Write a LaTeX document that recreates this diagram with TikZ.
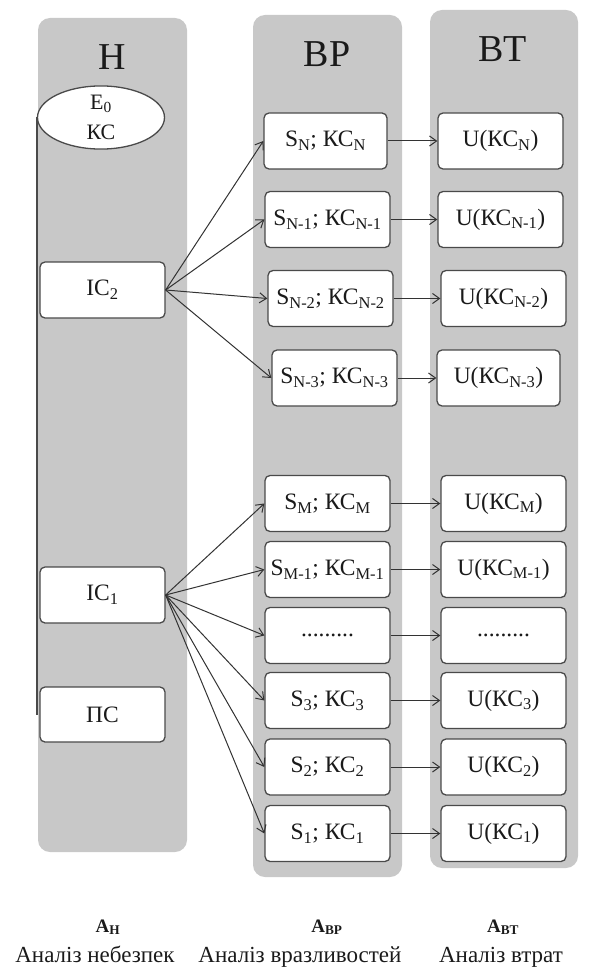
\documentclass[tikz,border=0pt]{standalone}
\usepackage{fontspec}
\setmainfont{Liberation Serif}
\usetikzlibrary{arrows.meta,shapes.geometric}

\definecolor{colgray}{HTML}{C8C8C8}
\definecolor{boxline}{HTML}{4A4A4A}
\definecolor{arrowline}{HTML}{333333}
\definecolor{ink}{HTML}{1A1A1A}

\begin{document}
\begin{tikzpicture}[x=1pt,y=-1pt,
  column/.style={fill=colgray, rounded corners=12pt},
  box/.style={draw=boxline, line width=1.3pt, fill=white, rounded corners=5pt,
    minimum width=124pt, minimum height=56pt, inner sep=0pt,
    font=\fontsize{23.5}{27}\selectfont, text=ink},
  head/.style={font=\fontsize{38}{44}\selectfont, text=ink, anchor=base},
  capt/.style={font=\fontsize{19}{22}\selectfont\bfseries, text=ink, anchor=base},
  captline/.style={font=\fontsize{23}{26}\selectfont, text=ink, anchor=base},
  link/.style={draw=arrowline, line width=1pt, -{Straight Barb[length=7pt,width=10pt]}}
]
\useasboundingbox (0,0) rectangle (600,968);

% three grey columns
\fill[column] (38,18) rectangle (187,852);
\fill[column] (253,15) rectangle (402,877);
\fill[column] (430,10) rectangle (578,868);

% column headings
\node[head] (hH)  at (112,70) {Н};
\node[head] (hBP) at (327,67) {ВР};
\node[head] (hBT) at (503,62) {ВТ};

% hazards column
\node[ellipse, draw=boxline, line width=1.3pt, fill=white, minimum width=127pt,
  minimum height=59pt, inner sep=0pt, align=center, text=ink,
  font=\fontsize{22}{30}\selectfont] (E) at (101,117.5) {E\textsubscript{0}\\КС};
\node[box, minimum width=125pt] (IC2) at (102.5,290) {ІС\textsubscript{2}};
\node[box, minimum width=125pt] (IC1) at (102.5,595) {ІС\textsubscript{1}};
\node[box, minimum width=125pt, minimum height=55pt] (PS) at (102.5,714.5) {ПС};
\draw[boxline, line width=1.3pt] (E.west) -- (E.west |- PS.west);

% vulnerability column
\node[box, minimum width=123pt] (SN)  at (325.5,141)   {S\textsubscript{N}; КС\textsubscript{N}};
\node[box, minimum width=125pt] (SN1) at (327.5,219.5) {S\textsubscript{N-1}; КС\textsubscript{N-1}};
\node[box, minimum width=125pt] (SN2) at (330.5,298.5) {S\textsubscript{N-2}; КС\textsubscript{N-2}};
\node[box, minimum width=125pt] (SN3) at (334.5,378)   {S\textsubscript{N-3}; КС\textsubscript{N-3}};
\node[box, minimum width=125pt] (SM)  at (327.5,503.5) {S\textsubscript{M}; КС\textsubscript{M}};
\node[box, minimum width=125pt] (SM1) at (327.5,569.5) {S\textsubscript{M-1}; КС\textsubscript{M-1}};
\node[box, minimum width=125pt] (Sd)  at (327.5,635.5) {.........};
\node[box, minimum width=125pt] (S3)  at (327.5,700.5) {S\textsubscript{3}; КС\textsubscript{3}};
\node[box, minimum width=125pt] (S2)  at (327.5,767)   {S\textsubscript{2}; КС\textsubscript{2}};
\node[box, minimum width=125pt] (S1)  at (327.5,833.5) {S\textsubscript{1}; КС\textsubscript{1}};

% loss column
\node[box, minimum width=125pt] (UN)  at (500.5,141)   {U(КС\textsubscript{N})};
\node[box, minimum width=125pt] (UN1) at (500.5,219.5) {U(КС\textsubscript{N-1})};
\node[box, minimum width=125pt] (UN2) at (503.5,298.5) {U(КС\textsubscript{N-2})};
\node[box, minimum width=123pt] (UN3) at (498.5,378)   {U(КС\textsubscript{N-3})};
\node[box, minimum width=125pt] (UM)  at (503.5,503.5) {U(КС\textsubscript{M})};
\node[box, minimum width=125pt] (UM1) at (503.5,569.5) {U(КС\textsubscript{M-1})};
\node[box, minimum width=125pt] (Ud)  at (503.5,635.5) {.........};
\node[box, minimum width=125pt] (U3)  at (503.5,700.5) {U(КС\textsubscript{3})};
\node[box, minimum width=125pt] (U2)  at (503.5,767)   {U(КС\textsubscript{2})};
\node[box, minimum width=125pt] (U1)  at (503.5,833.5) {U(КС\textsubscript{1})};

% fan-out from the initiating states
\foreach \t in {SN,SN1,SN2,SN3} \draw[link] (IC2.east) -- (\t.west);
\foreach \t in {SM,SM1,Sd,S3,S2,S1} \draw[link] (IC1.east) -- (\t.west);

% vulnerability to loss
\foreach \s/\t in {SN/UN,SN1/UN1,SN2/UN2,SN3/UN3,SM/UM,SM1/UM1,Sd/Ud,S3/U3,S2/U2,S1/U1}
  \draw[link] (\s.east) -- (\t.west);

% captions
\node[capt] (cH)  at (108,932) {А\textsubscript{Н}};
\node[capt] (cBP) at (327,932) {А\textsubscript{ВР}};
\node[capt] (cBT) at (503,932) {А\textsubscript{ВТ}};
\node[captline] (tH)  at (95,962)  {Аналіз небезпек};
\node[captline] (tBP) at (300,962) {Аналіз вразливостей};
\node[captline] (tBT) at (501,962) {Аналіз втрат};
\end{tikzpicture}
\end{document}
